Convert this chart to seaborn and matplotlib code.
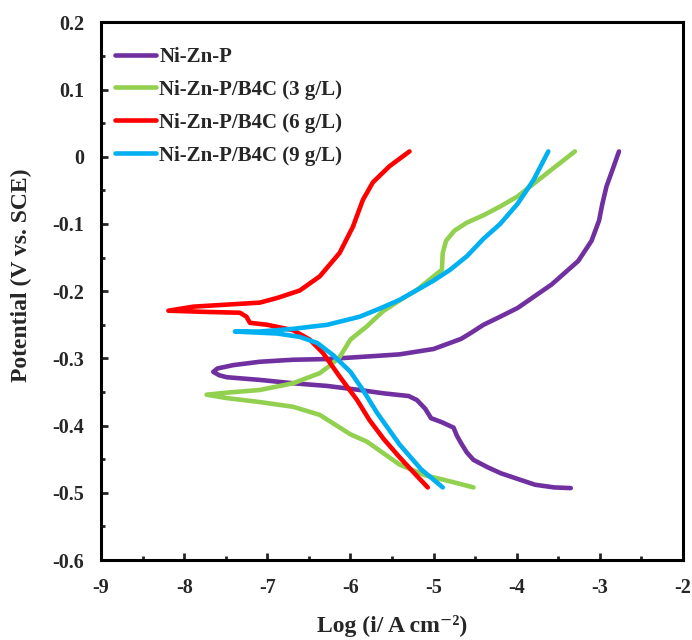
import matplotlib
matplotlib.use('Agg')
import matplotlib.pyplot as plt
from matplotlib.ticker import MultipleLocator
import pandas as pd
import seaborn as sns

# Tafel curves: log current density and potential (V vs. SCE)
nizp_logi = [-2.77, -2.85, -2.92, -2.97, -3.01, -3.10, -3.26, -3.58, -3.99, -4.20, -4.40, -4.55,
             -4.67, -5.00, -5.41, -5.65, -6.28, -6.69, -7.09, -7.41, -7.60, -7.65, -7.58, -7.49,
             -7.09, -6.69, -6.28, -5.89, -5.60, -5.30, -5.20, -5.10, -5.03, -4.90, -4.76, -4.72,
             -4.67, -4.60, -4.52, -4.35, -4.19, -3.78, -3.55, -3.35]
nizp_e = [0.008, -0.020, -0.044, -0.070, -0.095, -0.125, -0.155, -0.190, -0.225, -0.238, -0.250, -0.262,
          -0.271, -0.286, -0.294, -0.296, -0.301, -0.302, -0.305, -0.310, -0.315, -0.320, -0.325, -0.328,
          -0.332, -0.337, -0.341, -0.347, -0.352, -0.356, -0.362, -0.375, -0.389, -0.395, -0.403, -0.415,
          -0.426, -0.440, -0.451, -0.462, -0.471, -0.488, -0.492, -0.493]

b4c3_logi = [-3.30, -3.58, -3.99, -4.20, -4.40, -4.60, -4.75, -4.85, -4.89, -4.90, -5.05, -5.20,
             -5.40, -5.61, -5.80, -6.00, -6.13, -6.25, -6.37, -6.69, -7.09, -7.49, -7.73, -7.49,
             -7.09, -6.69, -6.37, -6.00, -5.80, -5.41, -5.10, -4.80, -4.52]
b4c3_e = [0.008, -0.019, -0.059, -0.074, -0.087, -0.098, -0.110, -0.125, -0.143, -0.168, -0.183, -0.198,
          -0.213, -0.230, -0.252, -0.272, -0.298, -0.311, -0.322, -0.337, -0.347, -0.351, -0.354, -0.359,
          -0.365, -0.372, -0.384, -0.413, -0.424, -0.458, -0.474, -0.483, -0.492]

b4c6_logi = [-5.29, -5.53, -5.73, -5.85, -5.97, -6.13, -6.37, -6.61, -6.88, -7.09, -7.49, -7.89,
             -8.19, -7.69, -7.33, -7.25, -7.21, -7.00, -6.69, -6.49, -6.33, -6.13, -5.92, -5.77,
             -5.60, -5.41, -5.20, -5.07]
b4c6_e = [0.008, -0.014, -0.038, -0.064, -0.104, -0.143, -0.178, -0.199, -0.210, -0.217, -0.220, -0.223,
          -0.229, -0.231, -0.232, -0.238, -0.247, -0.250, -0.258, -0.272, -0.292, -0.327, -0.362, -0.392,
          -0.420, -0.447, -0.475, -0.492]

b4c9_logi = [-3.62, -3.80, -3.99, -4.20, -4.40, -4.60, -4.80, -5.01, -5.41, -5.65, -5.89, -6.28,
             -6.69, -7.09, -7.39, -6.88, -6.61, -6.40, -6.21, -6.00, -5.85, -5.68, -5.41, -5.15, -4.89]
b4c9_e = [0.008, -0.035, -0.070, -0.100, -0.122, -0.148, -0.168, -0.185, -0.213, -0.226, -0.238, -0.250,
          -0.256, -0.260, -0.260, -0.263, -0.268, -0.277, -0.295, -0.320, -0.347, -0.381, -0.428, -0.465, -0.492]

labels = ['Ni-Zn-P', 'Ni-Zn-P/B4C (3 g/L)', 'Ni-Zn-P/B4C (6 g/L)', 'Ni-Zn-P/B4C (9 g/L)']
colors = ['#7030A0', '#92D050', '#FF0000', '#00B0F0']

frames = []
for lab, xs, ys in zip(labels, [nizp_logi, b4c3_logi, b4c6_logi, b4c9_logi],
                       [nizp_e, b4c3_e, b4c6_e, b4c9_e]):
    frames.append(pd.DataFrame({'logi': xs, 'E': ys, 'sample': lab}))
df = pd.concat(frames, ignore_index=True)

sns.set_style('ticks')
plt.rcParams['font.family'] = ['Liberation Serif', 'DejaVu Serif']
plt.rcParams['font.weight'] = 'bold'
plt.rcParams['axes.unicode_minus'] = False

fig = plt.figure(figsize=(6.92, 6.4), dpi=100)
ax = fig.add_axes([0.146, 0.125, 0.841, 0.840])
for lab, col in zip(labels, colors):
    sub = df[df['sample'] == lab]
    sns.lineplot(data=sub, x='logi', y='E', sort=False, estimator=None, color=col,
                 lw=3.3, label=lab, ax=ax, solid_joinstyle='round', solid_capstyle='round')

ax.set_xlim(-9, -2)
ax.set_ylim(-0.6, 0.2)
ax.xaxis.set_major_locator(MultipleLocator(1))
ax.xaxis.set_minor_locator(MultipleLocator(0.5))
ax.yaxis.set_major_locator(MultipleLocator(0.1))
ax.yaxis.set_minor_locator(MultipleLocator(0.05))
ax.set_xticklabels([f'{v:g}' for v in ax.get_xticks()])
ax.set_yticklabels(['0' if abs(v) < 1e-9 else f'{v:.1f}' for v in ax.get_yticks()])
ax.tick_params(which='both', direction='in', width=2, labelsize=14.5)
ax.tick_params(axis='x', pad=13)
ax.tick_params(axis='y', pad=12)
ax.tick_params(which='major', length=5)
ax.tick_params(which='minor', length=3)
for sp in ax.spines.values():
    sp.set_linewidth(2.2)
    sp.set_color('black')

ax.set_xlabel('Log (i/ A cm⁻²)', fontsize=17, fontweight='bold', labelpad=12)
ax.set_ylabel('Potential (V vs. SCE)', fontsize=17, fontweight='bold')
ax.yaxis.set_label_coords(-0.119, 0.53)

ax.legend(loc='upper left', bbox_to_anchor=(0.009, 0.97), frameon=False, handlelength=2.0,
          handletextpad=0.15, labelspacing=0.62, borderaxespad=0.0,
          prop={'size': 15, 'weight': 'bold'})

fig.savefig('out.png', dpi=100)
